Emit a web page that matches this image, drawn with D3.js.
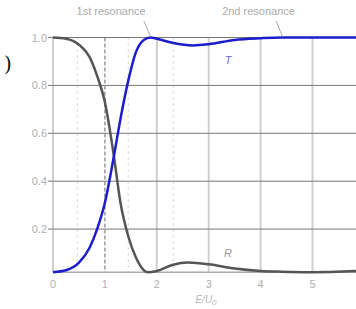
<!DOCTYPE html>
<html><head><meta charset="utf-8">
<script src="https://cdn.jsdelivr.net/npm/d3@7"></script>
<style>body{margin:0;background:#fff}svg{display:block}</style>
</head><body>
<svg id="c" width="356" height="309"></svg>
<script>
const energyT = [0,0.25,0.5,0.7,0.85,1.0,1.17,1.3,1.45,1.6,1.75,1.88,2.0,2.3,2.7,3.0,3.5,4.0,4.4,5.0,5.95];
const transT  = [0.02,0.028,0.06,0.12,0.2,0.31,0.5,0.66,0.82,0.94,0.99,1.0,0.995,0.978,0.967,0.972,0.99,0.997,1.0,1.0,1.0];
const energyR = [0,0.25,0.5,0.7,0.85,1.0,1.17,1.3,1.45,1.6,1.82,2.0,2.3,2.6,3.0,3.5,4.0,4.4,5.0,5.95];
const reflR   = [1.0,0.995,0.97,0.92,0.84,0.73,0.51,0.31,0.17,0.08,0.02,0.025,0.05,0.06,0.053,0.035,0.025,0.022,0.02,0.026];
const xTicks = [0,1,2,3,4,5];
const yTicks = [0.2,0.4,0.6,0.8,1.0];
const dottedE = [0.47,1.45,2.32];
const labels = [{t:"1st resonance", x:1.12, px:1.75, tx:1.88},{t:"2nd resonance", x:3.96, px:4.3, tx:4.42}];

const svg = d3.select("#c");
const x = d3.scaleLinear().domain([0,5]).range([53,312.5]);
const y = d3.scaleLinear().domain([0.02,1]).range([272.2,37.5]);
const xr = 358;

// vertical gridlines
svg.selectAll(".vg").data(xTicks.filter(d=>d!==1)).enter().append("line")
  .attr("x1",d=>x(d)).attr("x2",d=>x(d)).attr("y1",y(1)).attr("y2",y(0.02))
  .attr("stroke","#cfcfcf").attr("stroke-width",2);
svg.append("line").attr("x1",x(1)).attr("x2",x(1)).attr("y1",y(1)).attr("y2",y(0.02))
  .attr("stroke","#9a9a9a").attr("stroke-width",1.5).attr("stroke-dasharray","4,2");
svg.selectAll(".dg").data(dottedE).enter().append("line")
  .attr("x1",d=>x(d)).attr("x2",d=>x(d)).attr("y1",y(1)).attr("y2",y(0.02))
  .attr("stroke","#d6d6d6").attr("stroke-width",1.3).attr("stroke-dasharray","2,4");
// horizontal gridlines
svg.selectAll(".hg").data(yTicks).enter().append("line")
  .attr("x1",x(0)-5).attr("x2",xr).attr("y1",d=>y(d)).attr("y2",d=>y(d))
  .attr("stroke","#777").attr("stroke-width",1);
// bottom axis
svg.append("line").attr("x1",x(0)).attr("x2",xr).attr("y1",y(0.02)).attr("y2",y(0.02))
  .attr("stroke","#aaa").attr("stroke-width",1.5);

// tick labels
svg.selectAll(".yl").data(yTicks).enter().append("text")
  .attr("x",47).attr("y",d=>y(d)+4).attr("text-anchor","end")
  .attr("font-family","Liberation Sans, Arial, sans-serif").attr("font-size",11).attr("fill","#b0b0b0")
  .text(d=>d3.format(".1f")(d));
svg.selectAll(".xl").data(xTicks).enter().append("text")
  .attr("x",d=>x(d)).attr("y",288).attr("text-anchor","middle")
  .attr("font-family","Liberation Sans, Arial, sans-serif").attr("font-size",11).attr("fill","#b0b0b0")
  .text(d=>d);
svg.append("text").attr("x",206).attr("y",303).attr("text-anchor","middle")
  .attr("font-family","Liberation Sans, Arial, sans-serif").attr("font-size",10).attr("font-style","italic").attr("fill","#b5b5b5")
  .html('E/U<tspan font-size="8" dy="2">0</tspan>');

// curves
const line = d3.line().x(d=>x(d[0])).y(d=>y(d[1])).curve(d3.curveMonotoneX);
svg.append("path").datum(energyR.map((e,i)=>[e,reflR[i]])).attr("d",line)
  .attr("fill","none").attr("stroke","#555").attr("stroke-width",2.5);
svg.append("path").datum(energyT.map((e,i)=>[e,transT[i]])).attr("d",line)
  .attr("fill","none").attr("stroke","#1c1ccc").attr("stroke-width",2.5);

// curve labels
svg.append("text").attr("x",228).attr("y",64).attr("text-anchor","middle")
  .attr("font-family","Liberation Sans, Arial, sans-serif").attr("font-size",11).attr("font-style","italic").attr("fill","#6a6ad8").text("T");
svg.append("text").attr("x",228).attr("y",257).attr("text-anchor","middle")
  .attr("font-family","Liberation Sans, Arial, sans-serif").attr("font-size",11).attr("font-style","italic").attr("fill","#999").text("R");

// resonance annotations
labels.forEach(l=>{
  svg.append("text").attr("x",x(l.x)).attr("y",15).attr("text-anchor","middle")
    .attr("font-family","Liberation Sans, Arial, sans-serif").attr("font-size",11).attr("fill","#aaa").text(l.t);
  svg.append("line").attr("x1",x(l.px)).attr("y1",21).attr("x2",x(l.tx)).attr("y2",y(1)-1)
    .attr("stroke","#aaa").attr("stroke-width",1);
});

svg.append("text").attr("x",4).attr("y",71).attr("font-family","DejaVu Serif, serif").attr("font-size",20).attr("fill","#111").text(")");
</script>
</body></html>
